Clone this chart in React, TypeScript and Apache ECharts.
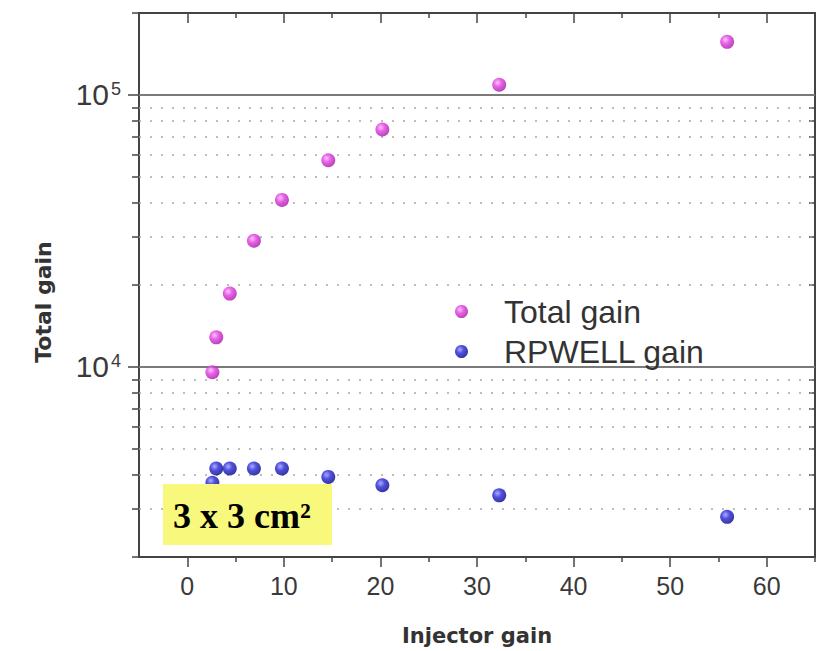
import React, { useEffect, useRef } from "react";
import * as echarts from "echarts";

const injectorGain = [2.6, 3.0, 4.4, 6.9, 9.8, 14.6, 20.2, 32.3, 55.9];
const totalGain = [9560, 12840, 18600, 29100, 41100, 57500, 74600, 109000, 156700];
const rpwellGain = [3750, 4230, 4230, 4230, 4230, 3940, 3670, 3370, 2810];

const xMajor = [0, 10, 20, 30, 40, 50, 60];
const xMinor = [5, 15, 25, 35, 45, 55, 65];
const yMajor = [10000, 100000];
const yMinor = [2000, 3000, 4000, 5000, 6000, 7000, 8000, 9000, 20000, 30000, 40000, 50000, 60000, 70000, 80000, 90000, 200000];
const yGridDotted = [3000, 4000, 5000, 6000, 7000, 8000, 9000, 20000, 30000, 40000, 50000, 60000, 70000, 80000, 90000];

const seriesNames = ["Total gain", "RPWELL gain"];
const boxLabel = "3 x 3 cm²";

const AXIS_COLOR = "#444444";

function sphere(hi: string, mid: string, edge: string) {
  return {
    type: "radial",
    x: 0.38,
    y: 0.35,
    r: 0.65,
    colorStops: [
      { offset: 0, color: hi },
      { offset: 0.45, color: mid },
      { offset: 1, color: edge },
    ],
  };
}

export default function App() {
  const ref = useRef<HTMLDivElement>(null);
  useEffect(() => {
    if (!ref.current) return;
    const chart = echarts.init(ref.current, null, { renderer: "svg" });
    const xBase = { type: "value", min: -5, max: 65, splitLine: { show: false } };
    const yBase = { type: "log", logBase: 10, min: 2000, max: 200000, splitLine: { show: false } };
    const lineStyle = { color: AXIS_COLOR, width: 2 };
    const tickStyle = { color: AXIS_COLOR, width: 1.5 };
    const option: any = {
      animation: false,
      backgroundColor: "#ffffff",
      grid: { left: 139, right: 18, top: 13, bottom: 94, containLabel: false },
      xAxis: [
        {
          ...xBase,
          position: "bottom",
          axisLine: { show: true, onZero: false, lineStyle },
          axisTick: { show: true, customValues: xMajor, length: 10, lineStyle: tickStyle },
          axisLabel: {
            show: true,
            customValues: xMajor,
            fontSize: 25,
            color: "#3a3a3a",
            fontFamily: "Liberation Sans",
            margin: 16,
          },
        },
        {
          ...xBase,
          position: "bottom",
          axisLine: { show: false, onZero: false },
          axisTick: { show: true, customValues: xMinor, length: 5, lineStyle: tickStyle },
          axisLabel: { show: false },
        },
        {
          ...xBase,
          position: "top",
          axisLine: { show: true, onZero: false, lineStyle },
          axisTick: { show: true, inside: true, customValues: xMajor, length: 10, lineStyle: tickStyle },
          axisLabel: { show: false },
        },
        {
          ...xBase,
          position: "top",
          axisLine: { show: false, onZero: false },
          axisTick: { show: true, inside: true, customValues: xMinor, length: 5, lineStyle: tickStyle },
          axisLabel: { show: false },
        },
      ],
      yAxis: [
        {
          ...yBase,
          position: "left",
          axisLine: { show: true, onZero: false, lineStyle },
          axisTick: { show: true, customValues: yMajor, length: 11, lineStyle: tickStyle },
          axisLabel: {
            show: true,
            customValues: yMajor,
            margin: 18,
            formatter: (v: number) => `{b|10}{s|${Math.round(Math.log10(v))}}`,
            rich: {
              b: { fontSize: 30, color: "#3a3a3a", fontFamily: "Liberation Sans", lineHeight: 30 },
              s: {
                fontSize: 18,
                color: "#3a3a3a",
                fontFamily: "Liberation Sans",
                verticalAlign: "top",
                lineHeight: 18,
                padding: [0, 0, 10, 2],
              },
            },
          },
        },
        {
          ...yBase,
          position: "left",
          axisLine: { show: false, onZero: false },
          axisTick: { show: true, customValues: yMinor, length: 7, lineStyle: tickStyle },
          axisLabel: { show: false },
        },
        {
          ...yBase,
          position: "right",
          axisLine: { show: true, onZero: false, lineStyle },
          axisTick: { show: true, inside: true, customValues: yMajor, length: 10, lineStyle: tickStyle },
          axisLabel: { show: false },
        },
        {
          ...yBase,
          position: "right",
          axisLine: { show: false, onZero: false },
          axisTick: { show: true, inside: true, customValues: yMinor, length: 6, lineStyle: tickStyle },
          axisLabel: { show: false },
        },
      ],
      legend: {
        orient: "vertical",
        left: 450,
        top: 289,
        itemWidth: 13,
        itemHeight: 13,
        itemGap: 5,
        icon: "circle",
        data: seriesNames,
        textStyle: {
          fontSize: 32,
          lineHeight: 35,
          color: "#333333",
          fontFamily: "Liberation Sans",
          padding: [0, 0, 0, 31],
        },
      },
      series: [
        {
          name: seriesNames[0],
          type: "scatter",
          xAxisIndex: 0,
          yAxisIndex: 0,
          z: 5,
          symbol: "circle",
          symbolSize: 14,
          itemStyle: { color: sphere("#fbb6fb", "#e23ae2", "#a818a8") },
          emphasis: { disabled: true },
          data: injectorGain.map((x, i) => [x, totalGain[i]]),
          markLine: {
            silent: true,
            symbol: "none",
            z: 1,
            label: { show: false },
            emphasis: { disabled: true },
            data: [
              ...yGridDotted.map((v) => ({
                yAxis: v,
                lineStyle: { color: "#a8a8a8", width: 1.5, type: [2, 9] },
              })),
              ...yMajor.map((v) => ({
                yAxis: v,
                lineStyle: { color: "#7a7a7a", width: 2, type: "solid" },
              })),
            ],
          },
        },
        {
          name: seriesNames[1],
          type: "scatter",
          xAxisIndex: 0,
          yAxisIndex: 0,
          z: 5,
          symbol: "circle",
          symbolSize: 14,
          itemStyle: { color: sphere("#9a9aff", "#2424d6", "#06068a") },
          emphasis: { disabled: true },
          data: injectorGain.map((x, i) => [x, rpwellGain[i]]),
        },
      ],
      graphic: [
        {
          type: "text",
          x: 43,
          y: 302,
          rotation: Math.PI / 2,
          style: {
            text: "Total gain",
            font: "bold 22px 'DejaVu Sans'",
            fill: "#333333",
            align: "center",
            verticalAlign: "middle",
          },
        },
        {
          type: "text",
          x: 477,
          y: 636,
          style: {
            text: "Injector gain",
            font: "bold 21px 'DejaVu Sans'",
            fill: "#333333",
            align: "center",
            verticalAlign: "middle",
          },
        },
        {
          type: "rect",
          z: 100,
          shape: { x: 163, y: 484, width: 169, height: 61 },
          style: { fill: "#f8f87c" },
        },
        {
          type: "text",
          z: 101,
          x: 173,
          y: 516,
          style: {
            text: boxLabel,
            font: "bold 36px 'Liberation Serif'",
            fill: "#000000",
            align: "left",
            verticalAlign: "middle",
          },
        },
      ],
    };
    chart.setOption(option);
    return () => chart.dispose();
  }, []);
  return (
    <div
      ref={ref}
      style={{ position: "fixed", left: 0, top: 0, width: 833, height: 651 }}
    />
  );
}
